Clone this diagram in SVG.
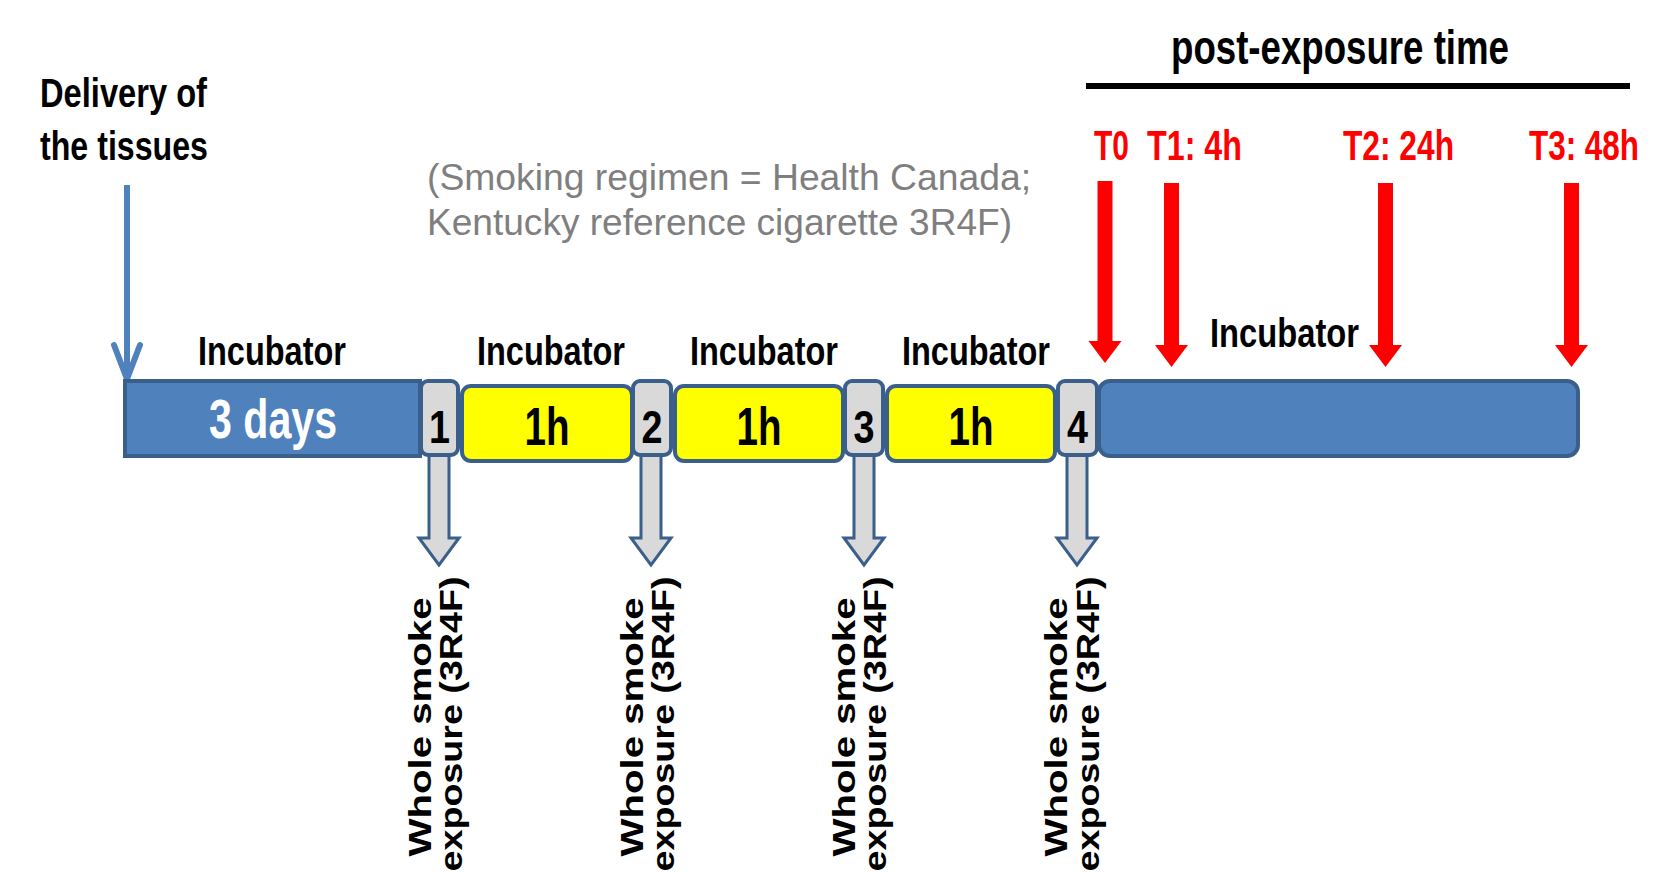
<svg xmlns="http://www.w3.org/2000/svg" width="1671" height="872" viewBox="0 0 1671 872">
<defs>
<style>
.lbl{font-family:"Liberation Sans Narrow","Arial Narrow","Liberation Sans",Arial,sans-serif;font-weight:bold;fill:#000}
.red{fill:#FF0000}
.wht{fill:#FFFFFF}
.bar{fill:#4F81BD;stroke:#3A5F8B;stroke-width:4}
.grey{fill:#D9D9D9;stroke:#3A5F8B;stroke-width:4}
.yel{fill:#FFFF00;stroke:#3A5F8B;stroke-width:4}
.garrow{fill:#D9D9D9;stroke:#3A5F8B;stroke-width:3;stroke-linejoin:miter}
.rarrow{fill:#FF0000}
.exp{font-family:"Liberation Sans",Arial,sans-serif;font-weight:bold;font-size:32px;fill:#000}
.note{font-family:"Liberation Sans",Arial,sans-serif;font-size:37px;fill:#7F7F7F}
</style>
</defs>
<rect width="1671" height="872" fill="#FFFFFF"/>

<g id="connectors">
  <!-- delivery arrow -->
  <line x1="127" y1="185" x2="127" y2="376" stroke="#4F81BD" stroke-width="6"/>
  <polyline points="114,345 127,379 140,345" fill="none" stroke="#4F81BD" stroke-width="6" stroke-linecap="round" stroke-linejoin="round"/>
  <!-- exposure arrows -->
  <path class="garrow" d="M429,452 V538 H419 L439,565 L459,538 H449 V452 Z"/>
  <path class="garrow" d="M641,452 V538 H631 L651,565 L671,538 H661 V452 Z"/>
  <path class="garrow" d="M854,452 V538 H844 L864,565 L884,538 H874 V452 Z"/>
  <path class="garrow" d="M1067,452 V538 H1057 L1077,565 L1097,538 H1087 V452 Z"/>
  <!-- time point arrows -->
  <path class="rarrow" d="M1097.5,181 H1112.5 V341 H1121.5 L1105,363 L1088.5,341 H1097.5 Z"/>
  <path class="rarrow" d="M1164,183 H1179 V345 H1188 L1171.5,367 L1155,345 H1164 Z"/>
  <path class="rarrow" d="M1378,183 H1393 V345 H1402 L1385.5,367 L1369,345 H1378 Z"/>
  <path class="rarrow" d="M1564,183 H1579 V345 H1588 L1571.5,367 L1555,345 H1564 Z"/>
  <!-- post-exposure line -->
  <line x1="1086" y1="86" x2="1630" y2="86" stroke="#000" stroke-width="6"/>
</g>

<g id="title-post-exposure">
  <text class="lbl" x="1171" y="64" font-size="48" textLength="338" lengthAdjust="spacingAndGlyphs">post-exposure time</text>
</g>

<g id="delivery-label">
  <text class="lbl" x="40" y="107" font-size="40" textLength="167" lengthAdjust="spacingAndGlyphs">Delivery of</text>
  <text class="lbl" x="40" y="160" font-size="40" textLength="168" lengthAdjust="spacingAndGlyphs">the tissues</text>
</g>

<g id="regimen-note">
  <text class="note" x="427" y="190" textLength="604" lengthAdjust="spacingAndGlyphs">(Smoking regimen = Health Canada;</text>
  <text class="note" x="427" y="235" textLength="585" lengthAdjust="spacingAndGlyphs">Kentucky reference cigarette 3R4F)</text>
</g>

<g id="timepoints">
  <text class="lbl red" x="1094" y="160" font-size="42" textLength="35" lengthAdjust="spacingAndGlyphs">T0</text>
  <text class="lbl red" x="1147" y="160" font-size="42" textLength="95" lengthAdjust="spacingAndGlyphs">T1: 4h</text>
  <text class="lbl red" x="1343" y="160" font-size="42" textLength="111" lengthAdjust="spacingAndGlyphs">T2: 24h</text>
  <text class="lbl red" x="1529" y="160" font-size="42" textLength="110" lengthAdjust="spacingAndGlyphs">T3: 48h</text>
</g>

<g id="incubator-0">
  <text class="lbl" x="198" y="365" font-size="40" textLength="148" lengthAdjust="spacingAndGlyphs">Incubator</text>
  <rect class="bar" x="125" y="381" width="295" height="75"/>
  <text class="lbl wht" x="209" y="438" font-size="56" textLength="128" lengthAdjust="spacingAndGlyphs">3 days</text>
</g>

<g id="exposure-1">
  <rect class="grey" x="421" y="381" width="37" height="74" rx="7"/>
  <text class="lbl" x="439.5" y="443" font-size="46" text-anchor="middle" textLength="21" lengthAdjust="spacingAndGlyphs">1</text>
</g>
<g id="incubator-1">
  <text class="lbl" x="477" y="365" font-size="40" textLength="148" lengthAdjust="spacingAndGlyphs">Incubator</text>
  <rect class="yel" x="462" y="386" width="170" height="75" rx="9"/>
  <text class="lbl" x="547" y="445" font-size="53" text-anchor="middle" textLength="45" lengthAdjust="spacingAndGlyphs">1h</text>
</g>
<g id="exposure-2">
  <rect class="grey" x="633" y="381" width="38" height="74" rx="7"/>
  <text class="lbl" x="652" y="443" font-size="46" text-anchor="middle" textLength="21" lengthAdjust="spacingAndGlyphs">2</text>
</g>
<g id="incubator-2">
  <text class="lbl" x="690" y="365" font-size="40" textLength="148" lengthAdjust="spacingAndGlyphs">Incubator</text>
  <rect class="yel" x="675" y="386" width="168" height="75" rx="9"/>
  <text class="lbl" x="759" y="445" font-size="53" text-anchor="middle" textLength="45" lengthAdjust="spacingAndGlyphs">1h</text>
</g>
<g id="exposure-3">
  <rect class="grey" x="845" y="381" width="38" height="74" rx="7"/>
  <text class="lbl" x="864" y="443" font-size="46" text-anchor="middle" textLength="21" lengthAdjust="spacingAndGlyphs">3</text>
</g>
<g id="incubator-3">
  <text class="lbl" x="902" y="365" font-size="40" textLength="148" lengthAdjust="spacingAndGlyphs">Incubator</text>
  <rect class="yel" x="887" y="386" width="168" height="75" rx="9"/>
  <text class="lbl" x="971" y="445" font-size="53" text-anchor="middle" textLength="45" lengthAdjust="spacingAndGlyphs">1h</text>
</g>
<g id="exposure-4">
  <rect class="grey" x="1058" y="381" width="39" height="74" rx="7"/>
  <text class="lbl" x="1077.5" y="443" font-size="46" text-anchor="middle" textLength="21" lengthAdjust="spacingAndGlyphs">4</text>
</g>
<g id="incubator-post">
  <rect class="bar" x="1099" y="381" width="479" height="75" rx="11"/>
  <text class="lbl" x="1210" y="347" font-size="40" textLength="149" lengthAdjust="spacingAndGlyphs">Incubator</text>
</g>

<g id="exposure-labels">
  <g id="exp-label-1">
    <text class="exp" transform="translate(431,727) rotate(-90)" text-anchor="middle" textLength="259" lengthAdjust="spacingAndGlyphs">Whole smoke</text>
    <text class="exp" transform="translate(462,724) rotate(-90)" text-anchor="middle" textLength="295" lengthAdjust="spacingAndGlyphs">exposure (3R4F)</text>
  </g>
  <g id="exp-label-2">
    <text class="exp" transform="translate(643,727) rotate(-90)" text-anchor="middle" textLength="259" lengthAdjust="spacingAndGlyphs">Whole smoke</text>
    <text class="exp" transform="translate(674,724) rotate(-90)" text-anchor="middle" textLength="295" lengthAdjust="spacingAndGlyphs">exposure (3R4F)</text>
  </g>
  <g id="exp-label-3">
    <text class="exp" transform="translate(855,727) rotate(-90)" text-anchor="middle" textLength="259" lengthAdjust="spacingAndGlyphs">Whole smoke</text>
    <text class="exp" transform="translate(886,724) rotate(-90)" text-anchor="middle" textLength="295" lengthAdjust="spacingAndGlyphs">exposure (3R4F)</text>
  </g>
  <g id="exp-label-4">
    <text class="exp" transform="translate(1067,727) rotate(-90)" text-anchor="middle" textLength="259" lengthAdjust="spacingAndGlyphs">Whole smoke</text>
    <text class="exp" transform="translate(1099,724) rotate(-90)" text-anchor="middle" textLength="295" lengthAdjust="spacingAndGlyphs">exposure (3R4F)</text>
  </g>
</g>
</svg>
